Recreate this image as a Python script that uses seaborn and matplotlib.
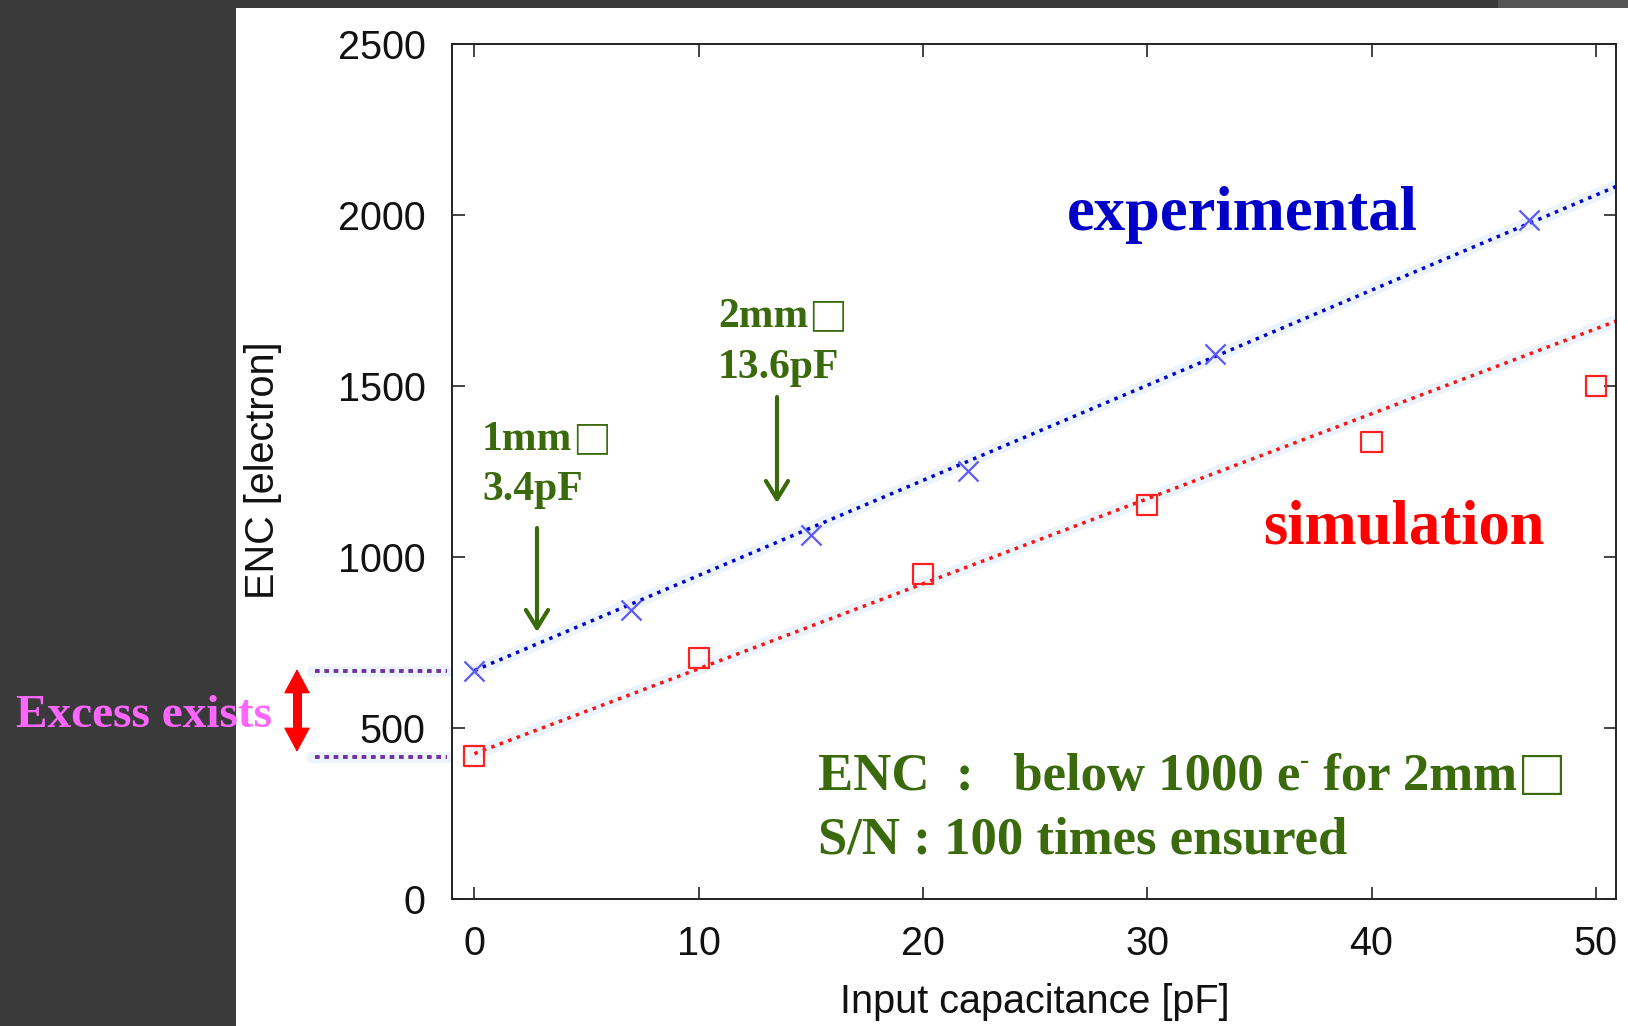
import numpy as np
import pandas as pd
import seaborn as sns
import matplotlib
matplotlib.use("Agg")
import matplotlib.pyplot as plt
from matplotlib import transforms
from matplotlib.patches import Rectangle
from matplotlib.lines import Line2D

# ---------------- data ----------------
exp_cap = [0, 7, 15, 22, 33, 47]
exp_enc = [668, 846, 1064, 1250, 1595, 1985]
sim_cap = [0, 10, 20, 30, 40, 50]
sim_enc = [419, 705, 951, 1152, 1337, 1499]
fit_cap = [0, 51]
exp_fit = [668, 2086]
sim_fit = [425, 1692]
x_ticks = [0, 10, 20, 30, 40, 50]
y_ticks = [0, 500, 1000, 1500, 2000, 2500]

W, H = 1628, 1026
sns.set_style("ticks")
plt.rcParams["font.family"] = ["Liberation Sans", "DejaVu Sans"]
SERIF = ["Liberation Serif", "DejaVu Serif"]
CJK = ["Noto Sans CJK JP", "DejaVu Sans"]
GREEN = "#3a6a0c"

fig = plt.figure(figsize=(W / 100, H / 100), dpi=100, facecolor="#3a3a3a")
fig.add_artist(Rectangle((236 / W, 0), 1 - 236 / W, 1 - 8 / H, transform=fig.transFigure,
                         facecolor="white", edgecolor="none", zorder=-5))
fig.add_artist(Rectangle((1498 / W, 1 - 8 / H), 1, 8 / H, transform=fig.transFigure,
                         facecolor="#565656", edgecolor="none", zorder=-5))

ax = fig.add_axes([452 / W, 1 - 899 / H, (1616 - 452) / W, (899 - 44) / H])
ax.set_facecolor("white")

exp_df = pd.DataFrame({"cap": exp_cap, "enc": exp_enc})
sim_df = pd.DataFrame({"cap": sim_cap, "enc": sim_enc})
fit_df = pd.DataFrame({"cap": fit_cap, "exp": exp_fit, "sim": sim_fit})

# glow + dotted fit lines
for col, c in (("exp", "#0000cc"), ("sim", "#ff1010")):
    sns.lineplot(data=fit_df, x="cap", y=col, color="#ecf3fb", lw=9, ax=ax, zorder=1)
    sns.lineplot(data=fit_df, x="cap", y=col, color=c, lw=2.5, linestyle=(0, (1, 1.6)),
                 ax=ax, zorder=2)

sns.scatterplot(data=exp_df, x="cap", y="enc", marker="x", s=210, color="#5a5aff",
                linewidth=1.6, ax=ax, zorder=3)
sns.scatterplot(data=sim_df, x="cap", y="enc", marker="s", s=210, facecolor="none",
                edgecolor="#ff2020", linewidth=1.6, ax=ax, zorder=3)

ax.set_xlim(-1, 50.9)
ax.set_ylim(0, 2500)
ax.set_xticks(x_ticks)
ax.set_yticks(y_ticks)
ax.tick_params(direction="in", length=9, width=1.1, top=True, right=True,
               labelsize=28.5, pad=19, colors="#111111")
for s in ax.spines.values():
    s.set_linewidth(1.4)
    s.set_color("#222222")
ax.set_xlabel("Input capacitance [pF]", fontsize=28.5, color="#111111")
ax.set_ylabel("ENC [electron]", fontsize=28.5, color="#111111")
ax.xaxis.set_label_coords(0.501, -0.098)
ax.yaxis.set_label_coords(-0.146, 0.502)

renderer = fig.canvas.get_renderer()


def rich(px, py, segs, color):
    """segs: (text, fontsize, family, weight, raise_px)"""
    x = px
    for s, size, fam, wt, dy in segs:
        t = fig.text(x / W, 1 - (py - dy) / H, s, ha="left", va="baseline", family=fam,
                     fontweight=wt, fontsize=size, color=color)
        x += t.get_window_extent(renderer=renderer).width


rich(1067, 230, [("experimental", 45, SERIF, "bold", 0)], "#0000c8")
rich(1263, 544, [("simulation", 45, SERIF, "bold", 0)], "#ff0000")
rich(818, 790, [("ENC  :   below 1000 e", 38, SERIF, "bold", 0),
                ("-", 20, SERIF, "bold", 22),
                (" for 2mm", 38, SERIF, "bold", 0),
                ("\u25a1", 36, CJK, "bold", -4)], GREEN)
rich(818, 853, [("S/N : 100 times ensured", 38, SERIF, "bold", 0)], GREEN)
rich(482, 450, [("1mm", 30, SERIF, "bold", 0), ("\u25a1", 28, CJK, "bold", -3)], GREEN)
rich(482, 500, [("3.4pF", 30, SERIF, "bold", 0)], GREEN)
rich(718, 327, [("2mm", 30, SERIF, "bold", 0), ("\u25a1", 28, CJK, "bold", -3)], GREEN)
rich(718, 378, [("13.6pF", 30, SERIF, "bold", 0)], GREEN)
rich(16, 727, [("Excess exists", 34, SERIF, "bold", 0)], "#ff66ff")

# green arrows
for xpx, y0, y1 in ((537, 528, 632), (777, 397, 503)):
    ax.annotate("", xy=(xpx, H - y1), xytext=(xpx, H - y0), xycoords="figure pixels",
                textcoords="figure pixels", annotation_clip=False,
                arrowprops=dict(arrowstyle="->,head_length=0.65,head_width=0.4",
                                lw=3, color=GREEN, mutation_scale=20,
                                shrinkA=0, shrinkB=0))

# excess markers (dotted lines at first data values)
trans = transforms.blended_transform_factory(fig.transFigure, ax.transData)
for yv in (exp_enc[0], sim_enc[0] - 3):
    ax.plot([312 / W, 447 / W], [yv, yv], transform=trans, color="#edf3fb", lw=8,
            clip_on=False, zorder=1)
    ax.plot([315 / W, 447 / W], [yv, yv], transform=trans, color="#7030a0", lw=2.8,
            linestyle=(0, (1.2, 1.2)), clip_on=False, zorder=2)

# red double arrow
ax.annotate("", xy=(297, H - 752), xytext=(297, H - 669), xycoords="figure pixels",
            textcoords="figure pixels", annotation_clip=False,
            arrowprops=dict(arrowstyle="<|-|>,head_length=0.8,head_width=0.43",
                            lw=1, color="#ff0000", mutation_scale=20,
                            shrinkA=0, shrinkB=0))
fig.add_artist(Line2D([297 / W, 297 / W], [1 - 685 / H, 1 - 736 / H],
                      transform=fig.transFigure, color="#ff0000", lw=6.5,
                      solid_capstyle="butt"))

fig.savefig("out.png", dpi=100, facecolor=fig.get_facecolor())
